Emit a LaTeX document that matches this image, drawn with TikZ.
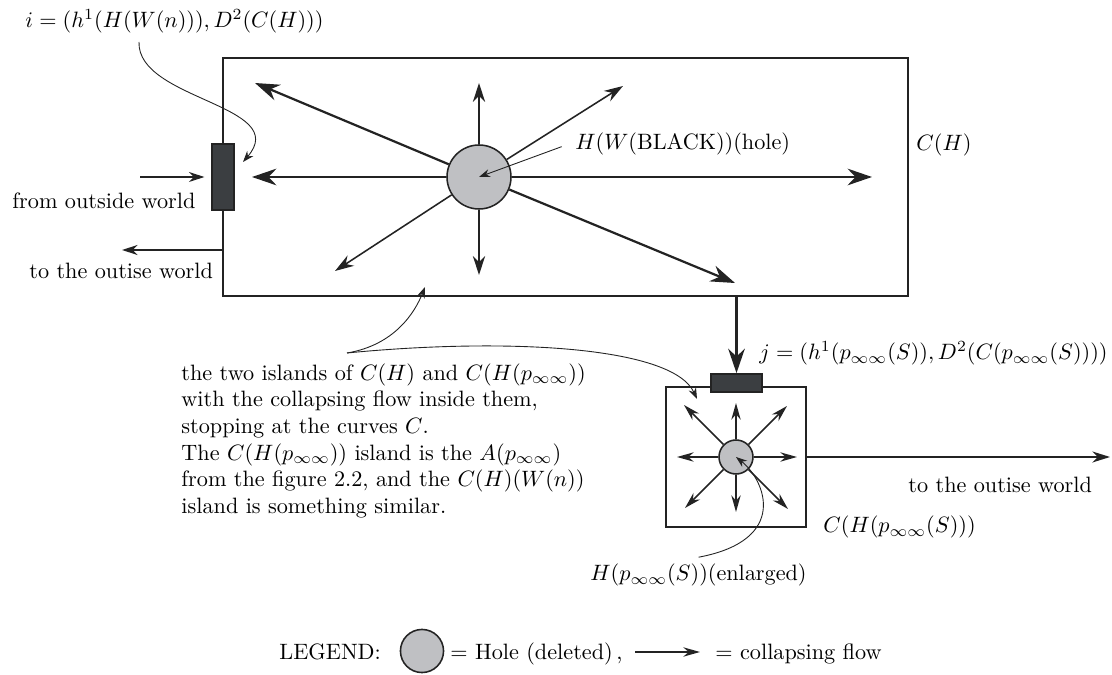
\documentclass[tikz,border=0pt]{standalone}
\usepackage{amsmath}
\usetikzlibrary{arrows.meta}
\usetikzlibrary{positioning}

\definecolor{ink}{HTML}{232323}
\definecolor{portgray}{HTML}{3B3E41}
\definecolor{holegray}{HTML}{BFC0C3}

\begin{document}
\begin{tikzpicture}[x=0.45pt,y=-0.45pt,
	island/.style={draw=ink,line width=0.8pt,inner sep=0pt},
	port/.style={draw=ink,fill=portgray,line width=0.8pt,inner sep=0pt},
	hole/.style={circle,draw=ink,fill=holegray,line width=0.7pt,inner sep=0pt},
	flowbig/.style={draw=ink,line width=1pt,-{Stealth[length=11pt,width=7.5pt]}},
	flow/.style={draw=ink,line width=0.7pt,-{Stealth[length=8.5pt,width=5.5pt]}},
	flowsmall/.style={draw=ink,line width=0.7pt,-{Stealth[length=7.5pt,width=4.2pt]}},
	note/.style={draw=ink,line width=0.4pt,-{Stealth[length=5pt,width=3.6pt]}},
	txt/.style={inner sep=0pt,anchor=base west}]

	\useasboundingbox (0,0) rectangle (1112,675);

	% big island C(H)
	\node[island,minimum width=308.25pt,minimum height=107.1pt] (bigisl) at (565.5,177) {};
	\node[port,minimum width=9.9pt,minimum height=29.7pt] (inport) at (223,177) {};
	\node[hole,minimum size=28.8pt] (bighole) at (479,177) {};

	\coordinate (bL) at (252,177);
	\coordinate (bR) at (872,177);
	\coordinate (bU) at (479,83);
	\coordinate (bD) at (479,275);
	\coordinate (bUL) at (255,83);
	\coordinate (bUR) at (623,86);
	\coordinate (bDL) at (335,271);
	\coordinate (bDR) at (735,283);

	\draw[flowbig] (bighole) -- (bL);
	\draw[flowbig] (bighole) -- (bR);
	\draw[flowbig] (bighole) -- (bUL);
	\draw[flowbig] (bighole) -- (bDR);
	\draw[flow] (bighole) -- (bU);
	\draw[flow] (bighole) -- (bD);
	\draw[flow] (bighole) -- (bUR);
	\draw[flow] (bighole) -- (bDL);

	% small island C(H(p))
	\node[island,minimum size=63pt] (smisl) at (736,457) {};
	\node[port,minimum width=23pt,minimum height=8.1pt] (outport) at (736.5,383) {};
	\node[hole,minimum size=15.3pt] (smhole) at (736,457) {};

	\coordinate (sL) at (677,457);
	\coordinate (sR) at (797,457);
	\coordinate (sU) at (736,403);
	\coordinate (sD) at (736,512);
	\coordinate (sUL) at (684,405);
	\coordinate (sUR) at (787,406);
	\coordinate (sDL) at (685,508);
	\coordinate (sDR) at (788,509);

	\draw[flowsmall] (smhole) -- (sL);
	\draw[flowsmall] (smhole) -- (sR);
	\draw[flowsmall] (smhole) -- (sU);
	\draw[flowsmall] (smhole) -- (sD);
	\draw[flowsmall] (smhole) -- (sUL);
	\draw[flowsmall] (smhole) -- (sUR);
	\draw[flowsmall] (smhole) -- (sDL);
	\draw[flowsmall] (smhole) -- (sDR);

	% links to the outside world
	\coordinate (inL) at (140,177);
	\coordinate (outL) at (122,250);
	\coordinate (outR) at (1110,457);
	\draw[flow,line width=0.6pt,-{Stealth[length=7pt,width=4.5pt]}] (inL) -- ([xshift=-3pt]inport.west);
	\draw[flow,line width=0.6pt,-{Stealth[length=7pt,width=4.5pt]}] (bigisl.west |- outL) -- (outL);
	\draw[flowbig] (bigisl.south -| outport) -- (outport.north);
	\draw[flow,line width=0.6pt,-{Stealth[length=8pt,width=5pt]}] (smisl.east) -- (outR);

	% labels
	\node[txt] (ilabel) at (25,27.5) {$i=(h^1(H(W(n))),D^2(C(H)))$};
	\node[txt] (fromout) at (12,209) {from outside world};
	\node[txt] (toout) at (29,279) {to the outise world};
	\node[txt] (holelabel) at (575,150) {$H(W(\mathrm{BLACK}))(\mathrm{hole})$};
	\node[txt] (chlabel) at (916,151) {$C(H)$};
	\node[txt] (jlabel) at (759,360) {$j=(h^1(p_{\infty\infty}(S)),D^2(C(p_{\infty\infty}(S))))$};
	\node[txt] (toout2) at (908,493) {to the outise world};
	\node[txt] (cplabel) at (823,533) {$C(H(p_{\infty\infty}(S)))$};
	\node[txt] (enlabel) at (590,581) {$H(p_{\infty\infty}(S))(\mathrm{enlarged})$};
	\node[txt,anchor=north west,align=left] (islnote) at (181,363) {the two islands of $C(H)$ and $C(H(p_{\infty\infty}))$\\
		with the collapsing flow inside them,\\
		stopping at the curves $C$.\\
		The $C(H(p_{\infty\infty}))$ island is the $A(p_{\infty\infty})$\\
		from the figure 2.2, and the $C(H)(W(n))$\\
		island is something similar.};

	% pointers
	\coordinate (istart) at (139,42);
	\coordinate (itip) at (243,162);
	\coordinate (fork) at (347,353);
	\coordinate (bigtip) at (425,287);
	\coordinate (smtip) at (697,399);
	\draw[note] (istart) .. controls (137,100) and (292,105) .. (itip);
	\draw[note] ([xshift=-6pt,yshift=-1pt]holelabel.west) -- (bighole.center);
	\draw[note] (fork) .. controls (395,345) and (415,312) .. (bigtip);
	\draw[note] (fork) .. controls (500,338) and (672,345) .. (smtip);
	\draw[note] ([yshift=3pt]enlabel.north) .. controls (790,540) and (765,480) .. (smhole.center);

	% legend
	\node[txt] (legend) at (279,660) {LEGEND:};
	\node[hole,minimum size=19.4pt] (leghole) at (422,651) {};
	\node[txt] (legholetxt) at (450,660) {$=$ Hole (deleted)\,,};
	\coordinate (legA) at (635,652);
	\coordinate (legB) at (700,652);
	\draw[flowsmall] (legA) -- (legB);
	\node[txt] (legflowtxt) at (715,660) {$=$ collapsing flow};

\end{tikzpicture}
\end{document}
